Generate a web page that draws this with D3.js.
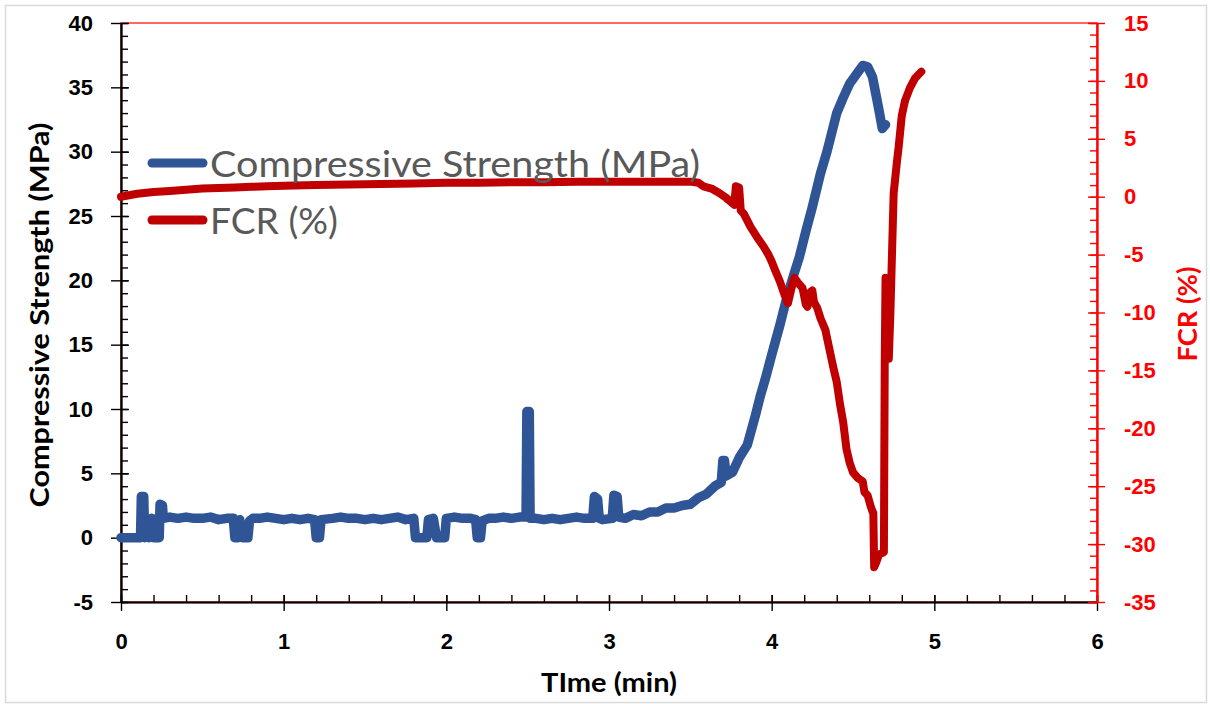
<!DOCTYPE html>
<html>
<head>
<meta charset="utf-8">
<script src="https://cdn.jsdelivr.net/npm/d3@7"></script>
<style>
  html, body { margin: 0; padding: 0; background: #fff; }
  svg { display: block; font-family: Lato, "Open Sans", sans-serif; }
</style>
</head>
<body>
<svg id="chart" width="1210" height="704"></svg>
<script>
// Time axis ticks (min)
const timeTicks = [0, 1, 2, 3, 4, 5, 6];
// Left axis ticks: compressive strength (MPa)
const strengthTicks = [-5, 0, 5, 10, 15, 20, 25, 30, 35, 40];
// Right axis ticks: FCR (%)
const fcrTicks = [-35, -30, -25, -20, -15, -10, -5, 0, 5, 10, 15];

// Compressive strength readings: [time (min), MPa]
const strengthSeries = [
  [0, 0], [0.12, 0], [0.125, 3.2], [0.14, 3.2], [0.145, 0], [0.16, 1.5], [0.17, 0],
  [0.19, 1.5], [0.2, 0], [0.235, 0], [0.24, 2.6], [0.255, 2.5], [0.26, 1.5],
  [0.3, 1.6], [0.35, 1.5], [0.4, 1.6], [0.45, 1.5], [0.5, 1.5], [0.55, 1.6],
  [0.6, 1.4], [0.65, 1.5], [0.69, 1.5], [0.7, 0], [0.72, 0], [0.73, 1.4], [0.75, 0],
  [0.78, 0], [0.79, 1.3], [0.81, 1.5], [0.85, 1.5], [0.9, 1.6], [0.95, 1.5],
  [1.0, 1.4], [1.05, 1.5], [1.1, 1.4], [1.15, 1.5], [1.19, 1.4], [1.2, 0], [1.22, 0],
  [1.23, 1.4], [1.3, 1.5], [1.35, 1.6], [1.4, 1.5], [1.45, 1.5], [1.5, 1.4],
  [1.55, 1.5], [1.6, 1.4], [1.65, 1.5], [1.7, 1.6], [1.75, 1.4], [1.8, 1.5],
  [1.81, 0], [1.88, 0], [1.89, 1.4], [1.92, 1.5], [1.94, 0], [1.99, 0], [2.0, 1.5],
  [2.05, 1.6], [2.1, 1.5], [2.15, 1.5], [2.18, 1.4], [2.19, 0], [2.21, 0], [2.22, 1.3],
  [2.26, 1.5], [2.3, 1.5], [2.35, 1.6], [2.4, 1.5], [2.45, 1.6], [2.49, 1.6],
  [2.495, 9.8], [2.51, 9.8], [2.515, 1.5], [2.55, 1.5], [2.6, 1.4], [2.65, 1.5],
  [2.7, 1.4], [2.75, 1.5], [2.8, 1.6], [2.85, 1.5], [2.9, 1.5], [2.91, 3.2],
  [2.93, 3.0], [2.94, 1.5], [2.96, 1.4], [3.02, 1.5], [3.03, 3.3], [3.05, 3.2],
  [3.06, 1.6], [3.1, 1.5], [3.15, 1.8], [3.2, 1.7], [3.25, 2.0], [3.3, 2.0],
  [3.35, 2.3], [3.4, 2.3], [3.45, 2.5], [3.5, 2.6], [3.55, 3.1], [3.6, 3.4],
  [3.65, 4.0], [3.69, 4.3], [3.7, 6.0], [3.71, 6.0], [3.72, 4.8], [3.76, 5.1],
  [3.8, 6.2], [3.85, 7.2], [3.9, 9.5], [3.93, 11.0], [3.96, 12.3], [4.0, 14.2],
  [4.05, 16.5], [4.09, 18.5], [4.13, 20.2], [4.17, 21.8], [4.21, 23.8], [4.25, 25.7],
  [4.3, 28.3], [4.34, 30.0], [4.37, 31.5], [4.4, 33.0], [4.44, 34.2], [4.48, 35.3],
  [4.52, 36.0], [4.56, 36.7], [4.59, 36.6], [4.62, 35.8], [4.64, 34.5], [4.66, 33.2],
  [4.68, 31.8], [4.7, 32.1]
];

// FCR readings: [time (min), %]
const fcrSeries = [
  [0, 0.0], [0.1, 0.25], [0.2, 0.4], [0.3, 0.5], [0.4, 0.6], [0.5, 0.7], [0.6, 0.75],
  [0.7, 0.8], [0.8, 0.85], [0.9, 0.9], [1.0, 0.95], [1.2, 1.0], [1.4, 1.05],
  [1.6, 1.1], [1.8, 1.15], [2.0, 1.2], [2.2, 1.2], [2.4, 1.25], [2.6, 1.25],
  [2.8, 1.3], [3.0, 1.3], [3.2, 1.3], [3.4, 1.3], [3.5, 1.3], [3.55, 1.2],
  [3.58, 0.9], [3.63, 0.7], [3.68, 0.3], [3.72, -0.1], [3.77, -0.7], [3.78, 0.9],
  [3.8, 0.8], [3.81, -1.2], [3.83, -1.5], [3.87, -2.6], [3.92, -3.7], [3.95, -4.3],
  [3.98, -5.0], [4.0, -5.6], [4.02, -6.3], [4.05, -7.3], [4.08, -8.5], [4.1, -9.2],
  [4.12, -8.0], [4.14, -7.0], [4.16, -7.4], [4.19, -7.9], [4.21, -9.3], [4.22, -9.5],
  [4.24, -8.2], [4.25, -8.1], [4.26, -9.1], [4.28, -9.6], [4.3, -10.5], [4.33, -11.5],
  [4.36, -13.5], [4.38, -14.8], [4.4, -16.0], [4.42, -17.9], [4.44, -19.5],
  [4.46, -21.8], [4.48, -23.0], [4.5, -23.8], [4.53, -24.3], [4.56, -24.6],
  [4.57, -25.5], [4.59, -25.8], [4.61, -26.8], [4.62, -27.2], [4.625, -27.3],
  [4.63, -32.0], [4.645, -31.5], [4.66, -30.9], [4.69, -30.7], [4.695, -14.5],
  [4.7, -7.0], [4.71, -7.2], [4.72, -14.0], [4.73, -10.0], [4.74, -4.8], [4.75, 0.3],
  [4.77, 3.0], [4.78, 4.2], [4.8, 7.0], [4.82, 8.3], [4.85, 9.4], [4.88, 10.2],
  [4.92, 10.8]
];

const seriesNames = ["Compressive Strength (MPa)", "FCR (%)"];
const seriesColors = ["#2F5597", "#C00000"];

const svg = d3.select("#chart");
const plot = { left: 121, right: 1097, top: 23, bottom: 602 };

const x = d3.scaleLinear().domain([0, 6]).range([plot.left, plot.right]);
const yL = d3.scaleLinear().domain([-5, 40]).range([plot.bottom, plot.top]);
const yR = d3.scaleLinear().domain([-35, 15]).range([plot.bottom, plot.top]);

// plain hyphen for negatives, integers only
const fmt = d => (d < 0 ? "-" + Math.abs(d) : String(d));

// Outer chart border
svg.append("rect")
  .attr("x", 5.5).attr("y", 5.5).attr("width", 1201).attr("height", 697)
  .attr("fill", "#fff").attr("stroke", "#d9d9d9").attr("stroke-width", 1.5);

// Plot area frame
svg.append("rect")
  .attr("x", plot.left).attr("y", plot.top)
  .attr("width", plot.right - plot.left).attr("height", plot.bottom - plot.top)
  .attr("fill", "none").attr("stroke", "#FF0000").attr("stroke-width", 1.2);

const minorRange = (a, b, s) => d3.range(Math.round((b - a) / s) + 1).map(i => +(a + i * s).toFixed(4));

function styleAxis(g, color) {
  g.selectAll("path.domain").attr("stroke", color).attr("stroke-width", 1.6);
  g.selectAll(".tick line").attr("stroke", color).attr("stroke-width", 1.4);
}
function styleLabels(g, color) {
  g.selectAll(".tick text").attr("fill", color).attr("font-size", 22).attr("font-weight", 700);
}

// ---- Bottom axis (time)
const gxMinor = svg.append("g").attr("transform", `translate(0,${plot.bottom})`)
  .call(d3.axisTop(x).tickValues(minorRange(0, 6, 0.2)).tickSize(7).tickFormat("").tickSizeOuter(0));
styleAxis(gxMinor, "#000");
const gxIn = svg.append("g").attr("transform", `translate(0,${plot.bottom})`)
  .call(d3.axisTop(x).tickValues(timeTicks).tickSize(7).tickFormat("").tickSizeOuter(0));
styleAxis(gxIn, "#000");
const gx = svg.append("g").attr("transform", `translate(0,${plot.bottom})`)
  .call(d3.axisBottom(x).tickValues(timeTicks).tickFormat(fmt).tickSize(9).tickPadding(22).tickSizeOuter(0));
styleAxis(gx, "#000");
styleLabels(gx, "#000");

// ---- Left axis (strength)
const gyMinor = svg.append("g").attr("transform", `translate(${plot.left},0)`)
  .call(d3.axisRight(yL).tickValues(minorRange(-5, 40, 1)).tickSize(7).tickFormat("").tickSizeOuter(0));
styleAxis(gyMinor, "#000");
const gyIn = svg.append("g").attr("transform", `translate(${plot.left},0)`)
  .call(d3.axisRight(yL).tickValues(strengthTicks).tickSize(8).tickFormat("").tickSizeOuter(0));
styleAxis(gyIn, "#000");
const gy = svg.append("g").attr("transform", `translate(${plot.left},0)`)
  .call(d3.axisLeft(yL).tickValues(strengthTicks).tickFormat(fmt).tickSize(10).tickPadding(18).tickSizeOuter(0));
styleAxis(gy, "#000");
styleLabels(gy, "#000");

// ---- Right axis (FCR)
const gyrMinor = svg.append("g").attr("transform", `translate(${plot.right},0)`)
  .call(d3.axisLeft(yR).tickValues(minorRange(-35, 15, 1)).tickSize(7).tickFormat("").tickSizeOuter(0));
styleAxis(gyrMinor, "#FF0000");
const gyrIn = svg.append("g").attr("transform", `translate(${plot.right},0)`)
  .call(d3.axisLeft(yR).tickValues(fcrTicks).tickSize(9).tickFormat("").tickSizeOuter(0));
styleAxis(gyrIn, "#FF0000");
const gyr = svg.append("g").attr("transform", `translate(${plot.right},0)`)
  .call(d3.axisRight(yR).tickValues(fcrTicks).tickFormat(fmt).tickSize(8).tickPadding(19).tickSizeOuter(0));
styleAxis(gyr, "#FF0000");
styleLabels(gyr, "#FF0000");

// ---- Axis titles
svg.append("text")
  .attr("x", 609).attr("y", 692)
  .attr("text-anchor", "middle").attr("font-size", 26).attr("font-weight", 700)
  .attr("fill", "#000")
  .attr("textLength", 136).attr("lengthAdjust", "spacingAndGlyphs")
  .text("TIme (min)");

svg.append("text")
  .attr("transform", `translate(49,315) rotate(-90)`)
  .attr("text-anchor", "middle").attr("font-size", 26).attr("font-weight", 700)
  .attr("fill", "#000")
  .attr("textLength", 385).attr("lengthAdjust", "spacingAndGlyphs")
  .text("Compressive Strength (MPa)");

svg.append("text")
  .attr("transform", `translate(1197,314) rotate(-90)`)
  .attr("text-anchor", "middle").attr("font-size", 26).attr("font-weight", 700)
  .attr("fill", "#FF0000")
  .attr("textLength", 95).attr("lengthAdjust", "spacingAndGlyphs")
  .text("FCR (%)");

// ---- Data lines
const lineL = d3.line().x(d => x(d[0])).y(d => yL(d[1]));
const lineR = d3.line().x(d => x(d[0])).y(d => yR(d[1]));

svg.append("path").datum(strengthSeries)
  .attr("d", lineL).attr("fill", "none")
  .attr("stroke", seriesColors[0]).attr("stroke-width", 9.5)
  .attr("stroke-linejoin", "round").attr("stroke-linecap", "round");

svg.append("path").datum(fcrSeries)
  .attr("d", lineR).attr("fill", "none")
  .attr("stroke", seriesColors[1]).attr("stroke-width", 8)
  .attr("stroke-linejoin", "round").attr("stroke-linecap", "round");

// ---- Legend
const legendRows = [163, 220];
const legendWidths = [490, 128];
const legend = svg.append("g");
seriesNames.forEach((name, i) => {
  const cy = legendRows[i];
  legend.append("line")
    .attr("x1", 152).attr("x2", 203).attr("y1", cy).attr("y2", cy)
    .attr("stroke", seriesColors[i]).attr("stroke-width", 9).attr("stroke-linecap", "round");
  legend.append("text")
    .attr("x", 210).attr("y", cy + 14)
    .attr("font-size", 37).attr("fill", "#595959")
    .attr("textLength", legendWidths[i]).attr("lengthAdjust", "spacingAndGlyphs")
    .text(name);
});
</script>
</body>
</html>
